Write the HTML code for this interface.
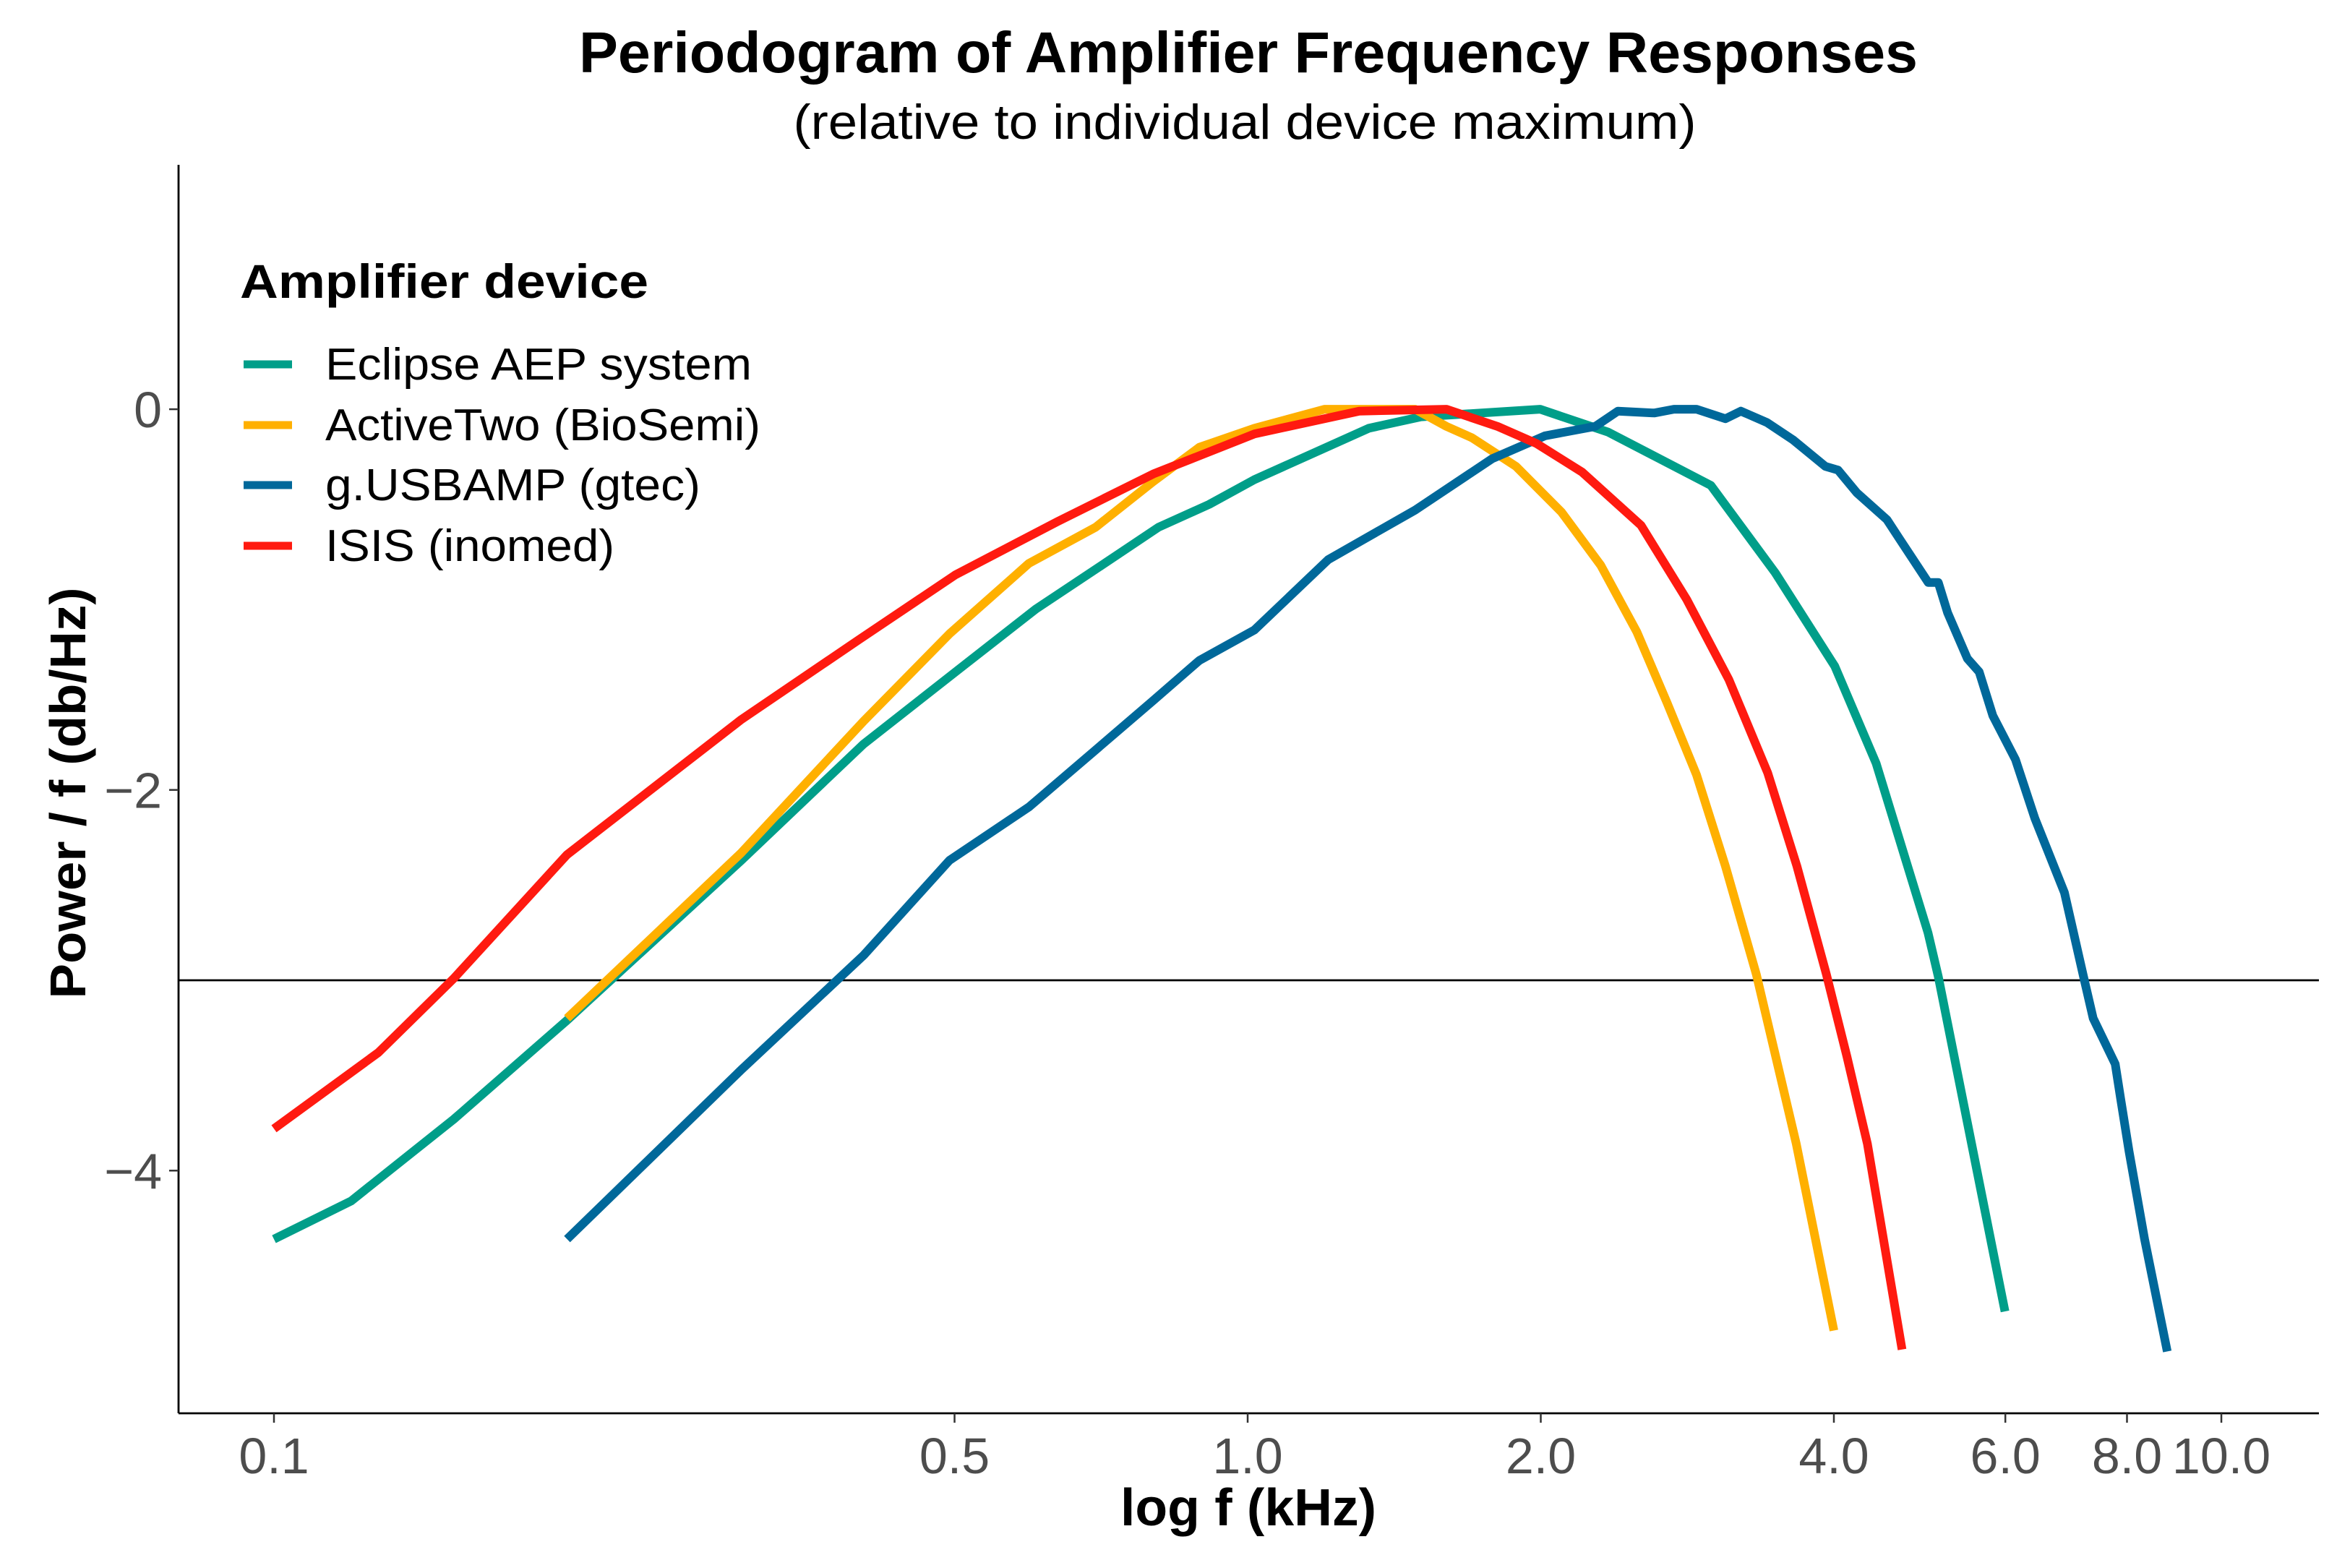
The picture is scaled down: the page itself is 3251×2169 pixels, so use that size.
<!DOCTYPE html>
<html><head><meta charset="utf-8"><style>
html,body{margin:0;padding:0;background:#fff;}
svg{display:block;font-family:"Liberation Sans",sans-serif;}
</style></head><body>
<svg id="chart" width="3251" height="2169" viewBox="0 0 3251 2169">
<text x="1727" y="100" font-size="80" font-weight="bold" text-anchor="middle" textLength="1852" lengthAdjust="spacingAndGlyphs">Periodogram of Amplifier Frequency Responses</text>
<text x="1722" y="192" font-size="68" text-anchor="middle" textLength="1249" lengthAdjust="spacingAndGlyphs">(relative to individual device maximum)</text>
<g id="plot"></g>
<g id="axes"></g>
<text x="1727" y="2110" font-size="72" font-weight="bold" text-anchor="middle" textLength="354" lengthAdjust="spacingAndGlyphs">log f (kHz)</text>
<text transform="translate(118,1097) rotate(-90)" font-size="70" font-weight="bold" text-anchor="middle" textLength="569" lengthAdjust="spacingAndGlyphs">Power / f (db/Hz)</text>
<g>
<text x="332" y="412" font-size="66" font-weight="bold" textLength="565" lengthAdjust="spacingAndGlyphs">Amplifier device</text>
<g><line x1="337" x2="404" y1="504" y2="504" stroke="#009E89" stroke-width="11"/><text x="450" y="525" font-size="62" textLength="590" lengthAdjust="spacingAndGlyphs">Eclipse AEP system</text></g>
<g><line x1="337" x2="404" y1="588" y2="588" stroke="#FFB000" stroke-width="11"/><text x="450" y="609" font-size="62" textLength="602" lengthAdjust="spacingAndGlyphs">ActiveTwo (BioSemi)</text></g>
<g><line x1="337" x2="404" y1="671" y2="671" stroke="#00689A" stroke-width="11"/><text x="450" y="692" font-size="62" textLength="519" lengthAdjust="spacingAndGlyphs">g.USBAMP (gtec)</text></g>
<g><line x1="337" x2="404" y1="755" y2="755" stroke="#FF1A10" stroke-width="11"/><text x="450" y="776" font-size="62" textLength="400" lengthAdjust="spacingAndGlyphs">ISIS (inomed)</text></g>
</g>
</svg>
<script>
const xTicks = [0.1, 0.5, 1.0, 2.0, 4.0, 6.0, 8.0, 10.0];
const xTickLabels = ["0.1","0.5","1.0","2.0","4.0","6.0","8.0","10.0"];
const yTicks = [0, -2, -4];
const yTickLabels = ["0","\u22122","\u22124"];
const refLine = -3;
const eclipseF = [0.1,0.12,0.153,0.2,0.302,0.403,0.504,0.606,0.708,0.81,0.913,1.016,1.332,1.506,1.997,2.345,2.99,3.483,4.008,4.42,4.997,5.12,5.995];
const eclipseV = [-4.36,-4.16,-3.73,-3.21,-2.37,-1.76,-1.37,-1.05,-0.82,-0.62,-0.5,-0.37,-0.1,-0.04,0.0,-0.12,-0.4,-0.86,-1.35,-1.86,-2.75,-2.98,-4.74];
const activeF = [0.2,0.302,0.403,0.494,0.596,0.698,0.80,0.892,1.016,1.2,1.486,1.6,1.70,1.886,2.10,2.305,2.51,2.695,2.89,3.095,3.33,3.66,4.0];
const activeV = [-3.2,-2.33,-1.64,-1.18,-0.81,-0.62,-0.38,-0.2,-0.1,0.0,0.0,-0.09,-0.15,-0.3,-0.54,-0.82,-1.17,-1.54,-1.92,-2.4,-2.97,-3.86,-4.84];
const usbF = [0.2,0.302,0.403,0.494,0.596,0.698,0.80,0.892,1.016,1.21,1.486,1.783,2.02,2.275,2.4,2.615,2.74,2.89,3.095,3.21,3.415,3.63,3.92,4.04,4.225,4.535,4.67,5.0,5.12,5.235,5.485,5.64,5.825,6.145,6.435,6.9,7.21,7.385,7.78,7.88,8.04,8.34,8.8];
const usbV = [-4.36,-3.47,-2.87,-2.37,-2.09,-1.79,-1.53,-1.32,-1.16,-0.79,-0.53,-0.26,-0.14,-0.09,-0.01,-0.02,0.0,0.0,-0.05,-0.01,-0.07,-0.16,-0.3,-0.32,-0.44,-0.58,-0.68,-0.91,-0.91,-1.07,-1.31,-1.38,-1.61,-1.84,-2.15,-2.54,-2.97,-3.2,-3.44,-3.62,-3.9,-4.36,-4.95];
const isisF = [0.1,0.128,0.153,0.2,0.302,0.399,0.501,0.638,0.80,1.016,1.302,1.6,1.805,1.98,2.205,2.535,2.825,3.12,3.42,3.665,3.93,4.125,4.33,4.7];
const isisV = [-3.78,-3.38,-2.99,-2.34,-1.63,-1.21,-0.87,-0.59,-0.34,-0.13,-0.01,0.0,-0.09,-0.18,-0.33,-0.61,-1.0,-1.42,-1.91,-2.4,-2.97,-3.4,-3.86,-4.94];

const NS = "http://www.w3.org/2000/svg";
const plotLeft = 247, plotRight = 3208, plotTop = 228, plotBottom = 1955;
const xMin = -1.098, xMax = 1.1002, yMin = -5.275, yMax = 1.284;
function xs(f){ return plotLeft + (Math.log10(f) - xMin) / (xMax - xMin) * (plotRight - plotLeft); }
function ys(v){ return plotBottom - (v - yMin) / (yMax - yMin) * (plotBottom - plotTop); }
function mk(tag, attrs, parent){ const e = document.createElementNS(NS, tag); for (const k in attrs) e.setAttribute(k, attrs[k]); parent.appendChild(e); return e; }

const plotG = document.getElementById('plot');
const axesG = document.getElementById('axes');

const hl = mk('line', {x1:plotLeft, x2:plotRight, y1:ys(refLine), y2:ys(refLine), stroke:'#000', 'stroke-width':2.8}, plotG);



function series(F, V, color, name){
  const d = F.map((f,i)=> (i?'L':'M') + xs(f).toFixed(1) + ',' + ys(V[i]).toFixed(1)).join(' ');
  const p = mk('path', {d:d, fill:'none', stroke:color, 'stroke-width':12, 'stroke-linejoin':'round'}, plotG);
  
  
}
series(eclipseF, eclipseV, '#009E89', 'line-eclipse-aep');
series(activeF, activeV, '#FFB000', 'line-activetwo');
series(usbF, usbV, '#00689A', 'line-gusbamp');
series(isisF, isisV, '#FF1A10', 'line-isis');

const ya = mk('line', {x1:plotLeft, x2:plotLeft, y1:plotTop, y2:plotBottom, stroke:'#000', 'stroke-width':2.8}, axesG);


const xa = mk('line', {x1:plotLeft, x2:plotRight, y1:plotBottom, y2:plotBottom, stroke:'#000', 'stroke-width':2.8}, axesG);



xTicks.forEach((t,i)=>{
  const x = xs(t);
  const tk = mk('line', {x1:x, x2:x, y1:plotBottom, y2:plotBottom+13, stroke:'#333', 'stroke-width':2.5}, axesG);
  
  
  const lb = mk('text', {x:x, y:2038, 'font-size':70, fill:'#4d4d4d', 'text-anchor':'middle'}, axesG);
  lb.textContent = xTickLabels[i];
  
  
});
yTicks.forEach((t,i)=>{
  const y = ys(t);
  const tk = mk('line', {x1:plotLeft-13, x2:plotLeft, y1:y, y2:y, stroke:'#333', 'stroke-width':2.5}, axesG);
  
  
  const lb = mk('text', {x:224, y:y+25, 'font-size':70, fill:'#4d4d4d', 'text-anchor':'end'}, axesG);
  lb.textContent = yTickLabels[i];
  
  
});
</script>
</body></html>
